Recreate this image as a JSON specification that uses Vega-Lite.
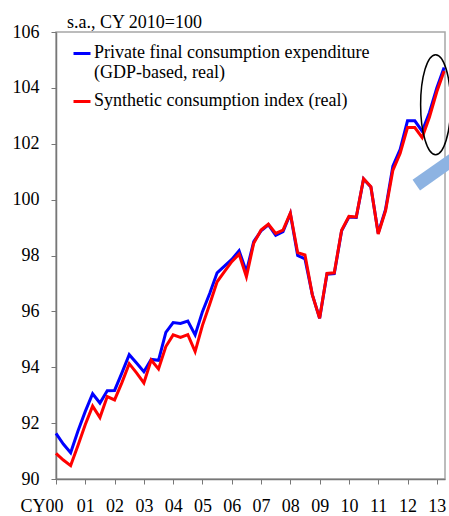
{
  "$schema": "https://vega.github.io/schema/vega-lite/v6.json",
  "width": 389,
  "height": 447,
  "autosize": {"type": "none"},
  "padding": {"left": 56, "top": 32, "right": 4, "bottom": 37},
  "background": "white",
  "config": {
    "font": "Liberation Serif",
    "view": {"stroke": "#a6a6a6", "strokeWidth": 1.5},
    "title": {"dx": 11},
    "axis": {"labelFont": "Liberation Serif", "labelFontSize": 18, "labelColor": "#000", "domainColor": "#777", "tickColor": "#777", "domainWidth": 1.5, "grid": false, "title": null, "labelOverlap": false}
  },
  "title": {"text": "s.a., CY 2010=100", "anchor": "start", "frame": "group", "dx": 11, "offset": -9, "fontSize": 18, "fontWeight": "normal", "font": "Liberation Serif", "color": "#000"},
  "datasets": {
    "series": [
      {"t": 0, "s": "pfce", "v": 91.63}, {"t": 0, "s": "sci", "v": 90.92},
      {"t": 0.25, "s": "pfce", "v": 91.25}, {"t": 0.25, "s": "sci", "v": 90.68},
      {"t": 0.5, "s": "pfce", "v": 90.94}, {"t": 0.5, "s": "sci", "v": 90.48},
      {"t": 0.75, "s": "pfce", "v": 91.72}, {"t": 0.75, "s": "sci", "v": 91.2},
      {"t": 1, "s": "pfce", "v": 92.42}, {"t": 1, "s": "sci", "v": 91.95},
      {"t": 1.25, "s": "pfce", "v": 93.05}, {"t": 1.25, "s": "sci", "v": 92.61},
      {"t": 1.5, "s": "pfce", "v": 92.72}, {"t": 1.5, "s": "sci", "v": 92.2},
      {"t": 1.75, "s": "pfce", "v": 93.16}, {"t": 1.75, "s": "sci", "v": 92.95},
      {"t": 2, "s": "pfce", "v": 93.17}, {"t": 2, "s": "sci", "v": 92.83},
      {"t": 2.25, "s": "pfce", "v": 93.8}, {"t": 2.25, "s": "sci", "v": 93.45},
      {"t": 2.5, "s": "pfce", "v": 94.45}, {"t": 2.5, "s": "sci", "v": 94.13},
      {"t": 2.75, "s": "pfce", "v": 94.15}, {"t": 2.75, "s": "sci", "v": 93.8},
      {"t": 3, "s": "pfce", "v": 93.84}, {"t": 3, "s": "sci", "v": 93.44},
      {"t": 3.25, "s": "pfce", "v": 94.28}, {"t": 3.25, "s": "sci", "v": 94.26},
      {"t": 3.5, "s": "pfce", "v": 94.25}, {"t": 3.5, "s": "sci", "v": 93.94},
      {"t": 3.75, "s": "pfce", "v": 95.25}, {"t": 3.75, "s": "sci", "v": 94.74},
      {"t": 4, "s": "pfce", "v": 95.6}, {"t": 4, "s": "sci", "v": 95.16},
      {"t": 4.25, "s": "pfce", "v": 95.57}, {"t": 4.25, "s": "sci", "v": 95.07},
      {"t": 4.5, "s": "pfce", "v": 95.65}, {"t": 4.5, "s": "sci", "v": 95.17},
      {"t": 4.75, "s": "pfce", "v": 95.16}, {"t": 4.75, "s": "sci", "v": 94.56},
      {"t": 5, "s": "pfce", "v": 95.99}, {"t": 5, "s": "sci", "v": 95.5},
      {"t": 5.25, "s": "pfce", "v": 96.65}, {"t": 5.25, "s": "sci", "v": 96.26},
      {"t": 5.5, "s": "pfce", "v": 97.38}, {"t": 5.5, "s": "sci", "v": 97.06},
      {"t": 5.75, "s": "pfce", "v": 97.62}, {"t": 5.75, "s": "sci", "v": 97.42},
      {"t": 6, "s": "pfce", "v": 97.86}, {"t": 6, "s": "sci", "v": 97.78},
      {"t": 6.25, "s": "pfce", "v": 98.17}, {"t": 6.25, "s": "sci", "v": 98.05},
      {"t": 6.5, "s": "pfce", "v": 97.42}, {"t": 6.5, "s": "sci", "v": 97.24},
      {"t": 6.75, "s": "pfce", "v": 98.5}, {"t": 6.75, "s": "sci", "v": 98.44},
      {"t": 7, "s": "pfce", "v": 98.88}, {"t": 7, "s": "sci", "v": 98.91},
      {"t": 7.25, "s": "pfce", "v": 99.1}, {"t": 7.25, "s": "sci", "v": 99.12},
      {"t": 7.5, "s": "pfce", "v": 98.72}, {"t": 7.5, "s": "sci", "v": 98.79},
      {"t": 7.75, "s": "pfce", "v": 98.85}, {"t": 7.75, "s": "sci", "v": 98.91},
      {"t": 8, "s": "pfce", "v": 99.5}, {"t": 8, "s": "sci", "v": 99.52},
      {"t": 8.25, "s": "pfce", "v": 98.0}, {"t": 8.25, "s": "sci", "v": 98.1},
      {"t": 8.5, "s": "pfce", "v": 97.88}, {"t": 8.5, "s": "sci", "v": 98.02},
      {"t": 8.75, "s": "pfce", "v": 96.6}, {"t": 8.75, "s": "sci", "v": 96.6},
      {"t": 9, "s": "pfce", "v": 95.75}, {"t": 9, "s": "sci", "v": 95.75},
      {"t": 9.25, "s": "pfce", "v": 97.33}, {"t": 9.25, "s": "sci", "v": 97.36},
      {"t": 9.5, "s": "pfce", "v": 97.35}, {"t": 9.5, "s": "sci", "v": 97.38},
      {"t": 9.75, "s": "pfce", "v": 98.88}, {"t": 9.75, "s": "sci", "v": 98.9},
      {"t": 10, "s": "pfce", "v": 99.38}, {"t": 10, "s": "sci", "v": 99.4},
      {"t": 10.25, "s": "pfce", "v": 99.36}, {"t": 10.25, "s": "sci", "v": 99.38},
      {"t": 10.5, "s": "pfce", "v": 100.74}, {"t": 10.5, "s": "sci", "v": 100.75},
      {"t": 10.75, "s": "pfce", "v": 100.45}, {"t": 10.75, "s": "sci", "v": 100.46},
      {"t": 11, "s": "pfce", "v": 98.8}, {"t": 11, "s": "sci", "v": 98.77},
      {"t": 11.25, "s": "pfce", "v": 99.65}, {"t": 11.25, "s": "sci", "v": 99.6},
      {"t": 11.5, "s": "pfce", "v": 101.2}, {"t": 11.5, "s": "sci", "v": 101.05},
      {"t": 11.75, "s": "pfce", "v": 101.8}, {"t": 11.75, "s": "sci", "v": 101.66},
      {"t": 12, "s": "pfce", "v": 102.82}, {"t": 12, "s": "sci", "v": 102.58},
      {"t": 12.25, "s": "pfce", "v": 102.82}, {"t": 12.25, "s": "sci", "v": 102.58},
      {"t": 12.5, "s": "pfce", "v": 102.45}, {"t": 12.5, "s": "sci", "v": 102.22},
      {"t": 12.75, "s": "pfce", "v": 103.12}, {"t": 12.75, "s": "sci", "v": 102.96},
      {"t": 13, "s": "pfce", "v": 104.0}, {"t": 13, "s": "sci", "v": 103.86},
      {"t": 13.25, "s": "pfce", "v": 104.73}, {"t": 13.25, "s": "sci", "v": 104.6}
    ],
    "ellipse": [{"t": 12.96, "v": 103.4}],
    "arrow": [{"t": 12.3, "v": 100.52, "t2": 13.7, "v2": 101.55}]
  },
  "layer": [
    {
      "data": {"name": "series"},
      "mark": {"type": "line", "strokeWidth": 3, "strokeJoin": "miter"},
      "encoding": {
        "x": {"field": "t", "type": "quantitative", "scale": {"domain": [0, 13.28], "nice": false, "zero": false},
              "axis": {"values": [0,1,2,3,4,5,6,7,8,9,10,11,12,13], "tickCount": 30, "tickSize": 5, "labelPadding": 13,
                       "labelFlush": false, "labelOverlap": false,
                       "labelAlign": {"condition": {"test": "datum.value == 0", "value": "right"}, "value": "center"},
                       "labelOffset": {"condition": {"test": "datum.value == 0", "value": 7}, "value": 0},
                       "labelExpr": "datum.value == 0 ? 'CY00' : (datum.value < 10 ? '0' + datum.value : '' + datum.value)"}},
        "y": {"field": "v", "type": "quantitative", "scale": {"domain": [90, 106], "nice": false, "zero": false},
              "axis": {"values": [90,92,94,96,98,100,102,104,106], "tickCount": 20, "tickSize": 5, "labelPadding": 12}},
        "color": {"field": "s", "type": "nominal",
                  "scale": {"domain": ["pfce", "sci"], "range": ["#0000ff", "#ff0000"]},
                  "legend": {"orient": "none", "legendX": 16, "legendY": 11.5, "title": null,
                             "symbolType": "stroke", "symbolSize": 289, "symbolStrokeWidth": 3,
                             "labelFont": "Liberation Serif", "labelFontSize": 18, "labelColor": "#000",
                             "labelLimit": 420, "labelOffset": 2, "rowPadding": 9, "labelBaseline": "top",
                             "labelExpr": "datum.value == 'pfce' ? ['Private final consumption expenditure', '(GDP-based, real)'] : 'Synthetic consumption index (real)'",
                             "encode": {"labels": {"update": {"dy": {"value": -9.5}}}}}}
      }
    },
    {
      "data": {"name": "ellipse"},
      "mark": {"type": "point", "shape": "M-0.3,0A0.3,1,0,1,1,0.3,0A0.3,1,0,1,1,-0.3,0Z", "size": 10000, "filled": false, "stroke": "#000", "strokeWidth": 1.5, "opacity": 1},
      "encoding": {
        "x": {"field": "t", "type": "quantitative"},
        "y": {"field": "v", "type": "quantitative"}
      }
    },
    {
      "data": {"name": "arrow"},
      "mark": {"type": "rule", "strokeWidth": 13, "color": "#8db3e2", "strokeCap": "butt"},
      "encoding": {
        "x": {"field": "t", "type": "quantitative"},
        "y": {"field": "v", "type": "quantitative"},
        "x2": {"field": "t2"},
        "y2": {"field": "v2"}
      }
    }
  ]
}
